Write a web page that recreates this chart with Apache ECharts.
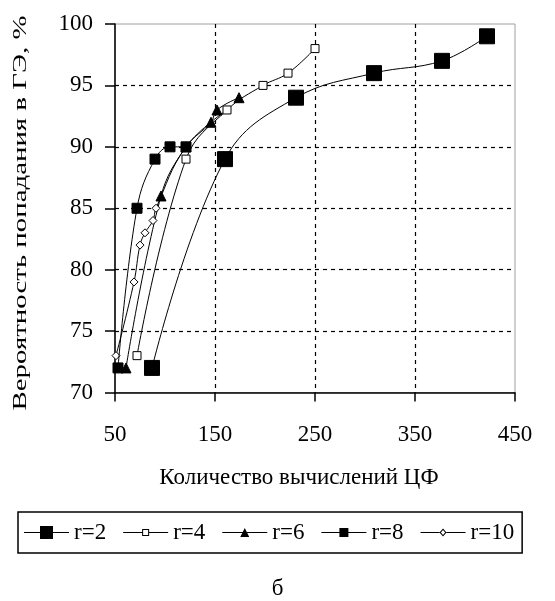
<!DOCTYPE html>
<html>
<head>
<meta charset="utf-8">
<script src="https://cdn.jsdelivr.net/npm/echarts@6/dist/echarts.min.js"></script>
<style>
html,body{margin:0;padding:0;background:#fff;}
#chart{width:555px;height:601px;}
</style>
</head>
<body>
<div id="chart"></div>
<script>
// ---- data ----
var xTicks = [50, 150, 250, 350, 450];
var yTicks = [70, 75, 80, 85, 90, 95, 100];
var seriesNames = ['r=2', 'r=4', 'r=6', 'r=8', 'r=10'];
var r2  = [[87,72],[160,89],[231,94],[309,96],[377,97],[422,99]];
var r4  = [[72,73],[121,89],[162,93],[198,95],[223,96],[250,98]];
var r6  = [[61,72],[96,86],[121,90],[146,92],[152,93],[174,94]];
var r8  = [[53,72],[72,85],[90,89],[105,90],[121,90]];
var r10 = [[51,73],[69,79],[75,82],[80,83],[88,84],[91,85],[121,90],[162,93]];
var xTitle = 'Количество вычислений ЦФ';
var yTitle = 'Вероятность попадания в ГЭ, %';
var caption = 'б';

var FONT = '"Liberation Serif", "Times New Roman", serif';
var chart = echarts.init(document.getElementById('chart'), null, {renderer: 'canvas'});

// legend icons (line + marker), drawn in a 45 x 14 box
var anchor = 'M0 0 h0.01 v0.01 h-0.01 Z M45 14 h-0.01 v-0.01 h0.01 Z ';
var lineFull = 'M0 6.5 H45 V7.5 H0 Z ';
var icons = {
  'r=2': 'path://' + anchor + lineFull + 'M16 0.5 H29 V13.5 H16 Z',
  'r=4': 'path://' + anchor + 'M0 6.5 H19 V7.5 H0 Z M26 6.5 H45 V7.5 H26 Z M19 3.5 H26 V10.5 H19 Z M20 4.5 V9.5 H25 V4.5 Z',
  'r=6': 'path://' + anchor + lineFull + 'M22.5 2.5 L27 11.5 L18 11.5 Z',
  'r=8': 'path://' + anchor + lineFull + 'M18 2.5 H27 V11.5 H18 Z',
  'r=10': 'path://' + anchor + 'M0 6.5 H19 V7.5 H0 Z M26 6.5 H45 V7.5 H26 Z M22.5 3 L26 7 L22.5 11 L19 7 Z M22.5 4.4 L20.4 7 L22.5 9.6 L24.6 7 Z'
};

function mk(name, data, symbol, size, fill, z) {
  return {
    name: name, type: 'line', data: data, smooth: 0.4, z: z,
    symbol: symbol, symbolSize: size,
    lineStyle: {color: '#000', width: 1},
    itemStyle: {color: fill, borderColor: '#000', borderWidth: 1},
    emphasis: {disabled: true},
    animation: false
  };
}

var option = {
  animation: false,
  backgroundColor: '#fff',
  grid: {left: 115, right: 40, top: 24, bottom: 208.5, show: true, borderColor: '#a0a0a0', borderWidth: 1},
  title: {text: caption, left: 'center', top: 572, textStyle: {fontFamily: FONT, fontSize: 23, fontWeight: 'normal', color: '#000'}},
  legend: {
    left: 18, top: 512,
    data: seriesNames.map(function (n) { return {name: n, icon: icons[n]}; }),
    itemWidth: 45, itemHeight: 14, itemGap: 17,
    itemStyle: {color: '#000', borderColor: '#000', borderWidth: 0},
    borderColor: '#000', borderWidth: 1.5,
    padding: [9, 8, 9, 6],
    textStyle: {fontFamily: FONT, fontSize: 23, color: '#000'}
  },
  xAxis: {
    type: 'value', min: xTicks[0], max: xTicks[xTicks.length-1], interval: 100,
    name: xTitle, nameLocation: 'middle', nameGap: 74,
    nameTextStyle: {fontFamily: FONT, fontSize: 23, color: '#000', padding: [0, 32, 0, 0]},
    axisLine: {show: true, lineStyle: {color: '#000', width: 1.5}},
    axisTick: {show: true, inside: false, length: 9, lineStyle: {color: '#000', width: 1.5}},
    axisLabel: {fontFamily: FONT, fontSize: 23, color: '#000', margin: 31},
    splitLine: {show: true, showMinLine: false, showMaxLine: false, lineStyle: {color: '#000', type: [4, 4], width: 1.2}}
  },
  yAxis: {
    type: 'value', min: yTicks[0], max: yTicks[yTicks.length-1], interval: 5,
    axisLine: {show: true, lineStyle: {color: '#000', width: 1.5}},
    axisTick: {show: true, inside: false, length: 10, lineStyle: {color: '#000', width: 1.5}},
    axisLabel: {fontFamily: FONT, fontSize: 23, color: '#000', margin: 22},
    splitLine: {show: true, showMinLine: false, showMaxLine: false, lineStyle: {color: '#000', type: [4, 4], width: 1.2}}
  },
  graphic: [{
    type: 'text', x: 21, y: 213, rotation: Math.PI / 2, scaleX: 1.52,
    style: {text: yTitle, font: '19px ' + FONT, fill: '#000', align: 'center', verticalAlign: 'middle'}
  }],
  series: [
    mk(seriesNames[0], r2, 'rect', 15, '#000', 2),
    mk(seriesNames[1], r4, 'rect', 8, '#fff', 3),
    mk(seriesNames[2], r6, 'triangle', 10, '#000', 2),
    mk(seriesNames[3], r8, 'rect', 10, '#000', 4),
    mk(seriesNames[4], r10, 'diamond', 8, '#fff', 2)
  ]
};
chart.setOption(option);
</script>
</body>
</html>
